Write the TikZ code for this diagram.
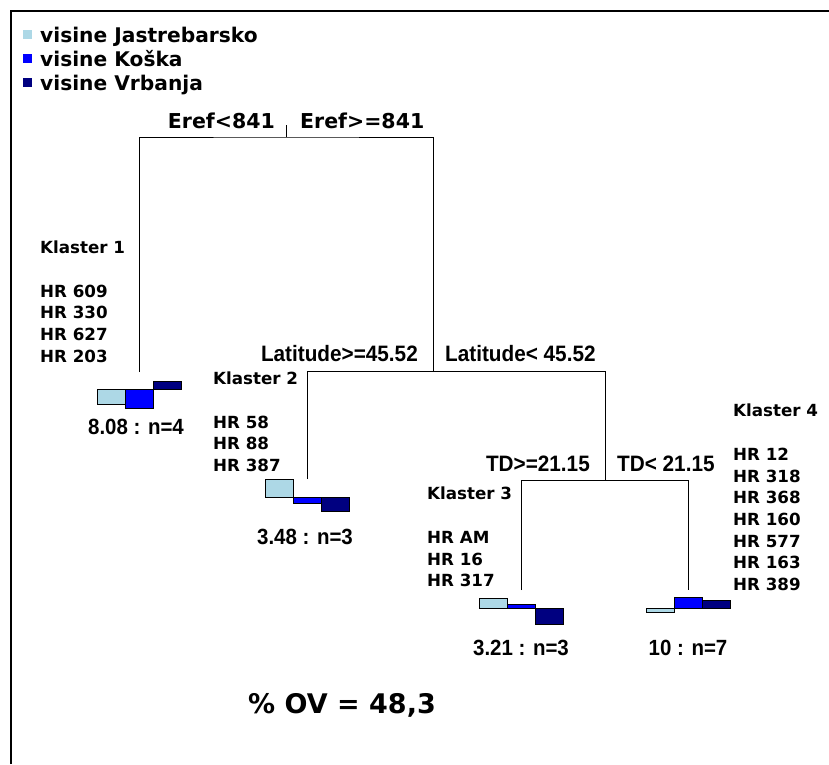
\documentclass[tikz,border=0pt]{standalone}
\usepackage{fontspec}
\setmainfont{DejaVu Sans}
\newfontfamily\arialfont[FakeStretch=0.93]{Liberation Sans}
\usetikzlibrary{positioning}
\definecolor{jastrebarsko}{RGB}{173,216,230}
\definecolor{koska}{RGB}{0,0,255}
\definecolor{vrbanja}{RGB}{0,0,128}
\tikzset{
  branch/.style={line width=1pt},
  bar/.style={line width=0.9pt, draw=black},
  legendtext/.style={font=\bfseries\fontsize{20.2}{24}\selectfont, inner sep=0pt, anchor=base west},
  erefl/.style={font=\bfseries\fontsize{20.5}{24}\selectfont, inner sep=0pt},
  splitl/.style={font=\arialfont\bfseries\fontsize{22.3}{26}\selectfont, inner sep=0pt},
  valuel/.style={font=\arialfont\bfseries\fontsize{22}{26}\selectfont, inner sep=0pt},
  klaster/.style={font=\bfseries\fontsize{16.7}{21.7}\selectfont, align=left, inner sep=0pt, anchor=north west}
}
\begin{document}
\begin{tikzpicture}[x=1pt,y=-1pt]
            \newcommand{\leafbars}[4]{%
              \filldraw[bar, fill=jastrebarsko] ([xshift=-42pt]#1) rectangle ++(28,#2);
              \filldraw[bar, fill=koska] ([xshift=-14pt]#1) rectangle ++(28,#3);
              \filldraw[bar, fill=vrbanja] ([xshift=14pt]#1) rectangle ++(28,#4);}
            \useasboundingbox (0,0) rectangle (829,764);
            \draw[line width=2.5pt] (11,764) -- (11,11) -- (829,11);
            \foreach \c/\t [count=\i] in {jastrebarsko/visine Jastrebarsko,koska/visine Koška,vrbanja/visine Vrbanja}
            {
              \fill[\c] (23,24*\i+6) rectangle ++(9,9);
              \node[legendtext] (legend\i) at (40,24*\i+18) {\t};
            }
            \coordinate (erefroot) at (286,125);
            \coordinate (eref) at (286,137);
            \coordinate (lat) at (433,371);
            \coordinate (td) at (605,480);
            \coordinate (leaf1) at (139,389);
            \coordinate (leaf2) at (307,497);
            \coordinate (leaf3) at (521,608);
            \coordinate (leaf4) at (688,608);
            \draw[branch] (erefroot) -- (eref);
            \draw[branch] ([yshift=17pt]leaf1) |- (eref) -| (lat);
            \draw[branch] ([yshift=18pt]leaf2) |- (lat) -| (td);
            \draw[branch] ([yshift=18pt]leaf3) |- (td) -| ([yshift=18pt]leaf4);
            \node[erefl, anchor=base east] (erefless) at (275,128) {Eref<841};
            \node[erefl, anchor=base west] (erefmore) at (300,128) {Eref>=841};
            \node[splitl, anchor=base east] (latmore) at (418,361.5) {Latitude>=45.52};
            \node[splitl, anchor=base west] (latless) at (445,361.5) {Latitude< 45.52};
            \node[splitl, anchor=base east] (tdmore) at (590,471) {TD>=21.15};
            \node[splitl, anchor=base west] (tdless) at (617,471) {TD< 21.15};
            \leafbars{leaf1}{15}{19}{-8}
            \leafbars{leaf2}{-18}{6}{14}
            \leafbars{leaf3}{-10}{-4}{16}
            \leafbars{leaf4}{4}{-11}{-8}
            \node[valuel] (value1) at ([shift={(-3pt,-38pt)}]leaf1) {8.08 : n=4};
            \node[valuel] (value2) at ([shift={(-2pt,-40pt)}]leaf2) {3.48 : n=3};
            \node[valuel] (value3) at ([yshift=-40pt]leaf3) {3.21 : n=3};
            \node[valuel] (value4) at ([yshift=-40pt]leaf4) {10 : n=7};
            \node[klaster] (klaster1) at (40,241) {Klaster 1\\[21.7pt]HR 609\\HR 330\\HR 627\\HR 203};
            \node[klaster] (klaster2) at (213,372) {Klaster 2\\[21.7pt]HR 58\\HR 88\\HR 387};
            \node[klaster] (klaster3) at (427,487) {Klaster 3\\[21.7pt]HR AM\\HR 16\\HR 317};
            \node[klaster] (klaster4) at (733,404) {Klaster 4\\[21.7pt]HR 12\\HR 318\\HR 368\\HR 160\\HR 577\\HR 163\\HR 389};
            \node[font=\bfseries\fontsize{27}{32}\selectfont, inner sep=0pt, anchor=base] (ov) at (342,713) {\% OV = 48,3};
\end{tikzpicture}
\end{document}
